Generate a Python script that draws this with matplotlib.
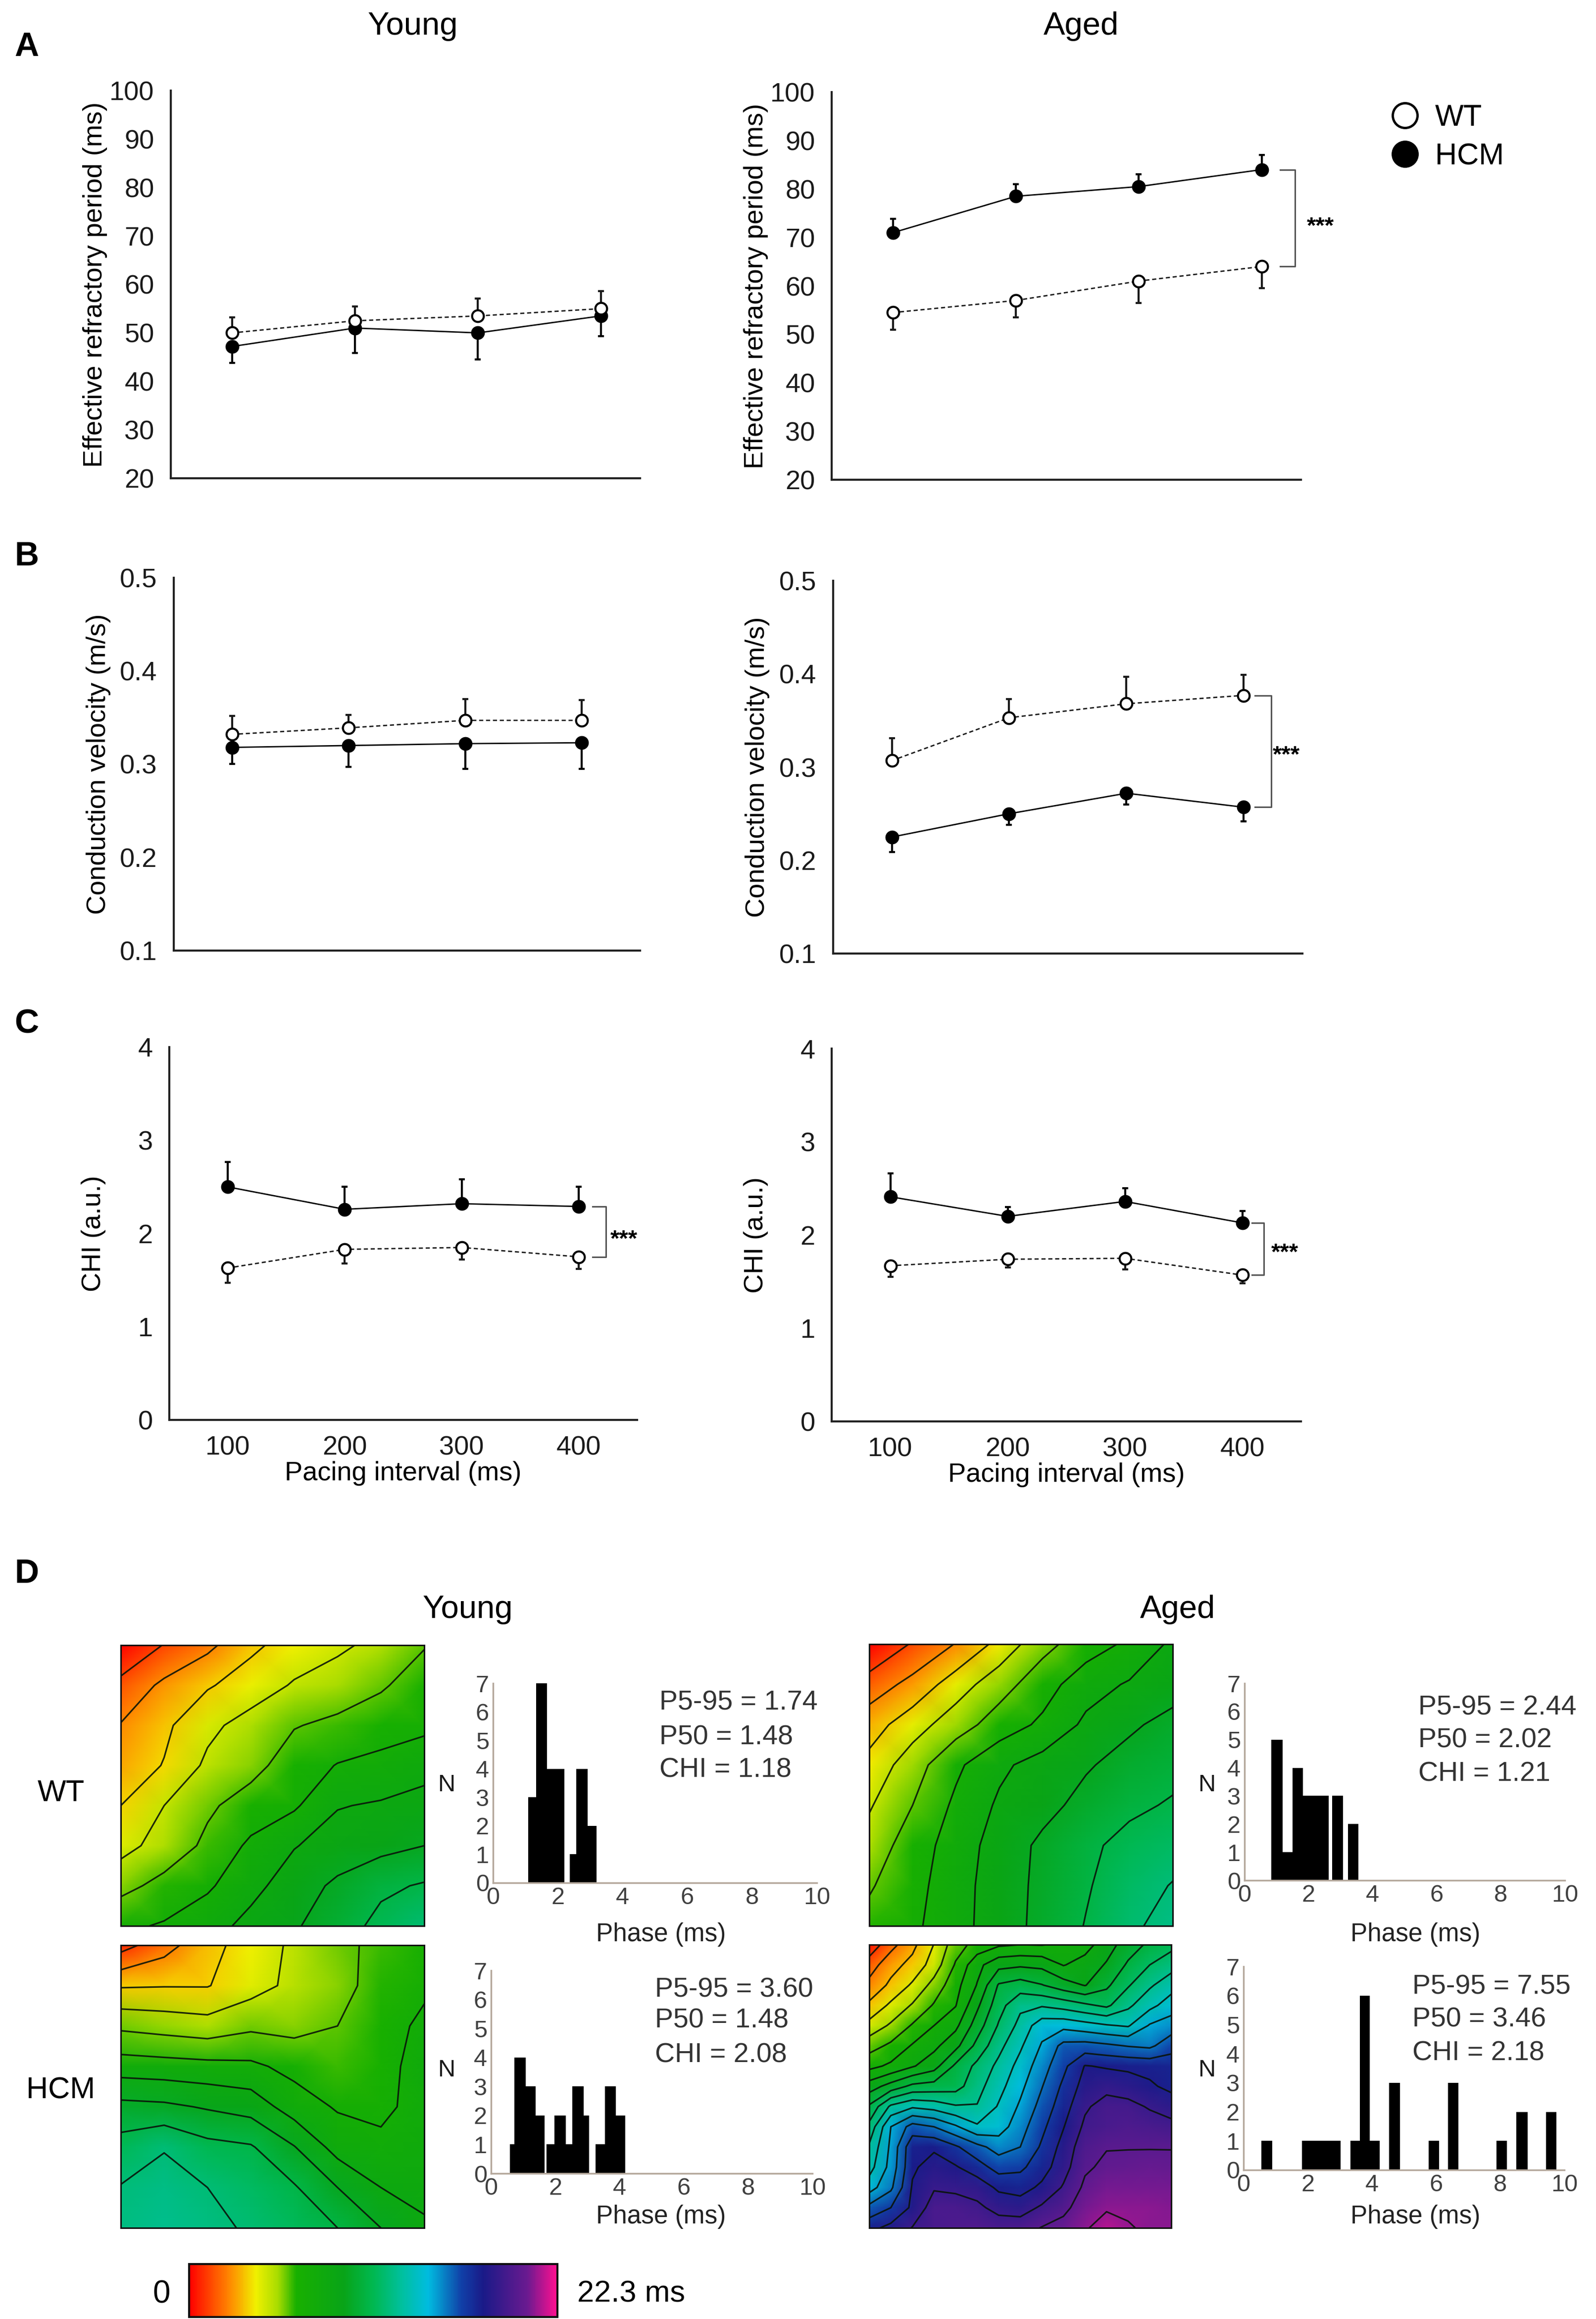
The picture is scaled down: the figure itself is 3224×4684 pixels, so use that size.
import numpy as np
import matplotlib
matplotlib.use('Agg')
import matplotlib.pyplot as plt
from matplotlib.colors import LinearSegmentedColormap
from matplotlib.lines import Line2D
from matplotlib.cm import ScalarMappable
from matplotlib.colors import Normalize

plt.rcParams['font.family'] = ['Liberation Sans', 'DejaVu Sans']

# Line panels: mean and one sided error
pacing = [100, 200, 300, 400]
pacing_labels = ['100', '200', '300', '400']

erp_young_wt = [50, 52.5, 53.5, 55]
erp_young_wt_err = [3.2, 3.0, 3.6, 3.6]
erp_young_hcm = [47.2, 51, 50, 53.5]
erp_young_hcm_err = [3.4, 5.2, 5.5, 4.2]
erp_aged_wt = [54.5, 57, 61, 64]
erp_aged_wt_err = [3.5, 3.5, 4.5, 4.5]
erp_aged_hcm = [71, 78.5, 80.5, 84]
erp_aged_hcm_err = [2.8, 2.5, 2.5, 3.0]

cv_young_wt = [0.332, 0.339, 0.347, 0.347]
cv_young_wt_err = [0.020, 0.014, 0.023, 0.022]
cv_young_hcm = [0.318, 0.320, 0.322, 0.323]
cv_young_hcm_err = [0.018, 0.023, 0.027, 0.028]
cv_aged_wt = [0.307, 0.353, 0.368, 0.377]
cv_aged_wt_err = [0.024, 0.020, 0.029, 0.022]
cv_aged_hcm = [0.225, 0.250, 0.272, 0.257]
cv_aged_hcm_err = [0.016, 0.012, 0.012, 0.015]

chi_young_wt = [1.63, 1.83, 1.85, 1.75]
chi_young_wt_err = [0.16, 0.15, 0.13, 0.13]
chi_young_hcm = [2.50, 2.26, 2.32, 2.29]
chi_young_hcm_err = [0.27, 0.24, 0.26, 0.21]
chi_aged_wt = [1.67, 1.74, 1.75, 1.57]
chi_aged_wt_err = [0.12, 0.09, 0.12, 0.09]
chi_aged_hcm = [2.41, 2.20, 2.36, 2.13]
chi_aged_hcm_err = [0.25, 0.10, 0.14, 0.13]

# Phase maps in units of the contour step, top row first
map_young_wt = [
    [0.0, 1.05, 1.75, 2.8, 3.4, 3.8, 4.3, 4.95],
    [1.3, 2.2, 2.9, 3.45, 4.1, 4.5, 4.9, 5.4],
    [2.05, 2.8, 3.75, 4.4, 4.95, 5.2, 5.45, 5.75],
    [2.4, 3.05, 4.2, 4.7, 5.45, 6.05, 6.35, 6.7],
    [3.0, 4.0, 4.85, 5.4, 5.85, 6.95, 7.1, 7.3],
    [3.65, 4.4, 5.2, 6.2, 6.95, 7.4, 7.7, 8.0],
    [4.7, 5.3, 5.85, 6.7, 7.5, 8.2, 8.8, 9.1],
    [5.8, 6.1, 6.6, 7.3, 7.9, 8.5, 9.3, 9.9],
]
map_young_hcm = [
    [0.6, 1.6, 2.7, 3.4, 4.2, 4.8, 5.2, 5.6],
    [2.9, 2.95, 2.95, 3.6, 4.25, 4.7, 5.35, 5.75],
    [4.8, 4.6, 4.4, 4.8, 4.7, 5.0, 5.4, 6.3],
    [6.5, 6.4, 6.3, 6.2, 5.7, 5.2, 5.5, 6.6],
    [8.3, 8.2, 7.9, 7.6, 6.5, 5.9, 5.7, 6.5],
    [9.4, 9.95, 9.3, 9.1, 8.05, 6.6, 6.3, 6.6],
    [10.05, 10.3, 10.0, 9.6, 9.1, 8.0, 7.0, 6.8],
    [10.2, 10.4, 10.2, 9.9, 9.5, 9.0, 8.0, 7.1],
]
map_aged_wt = [
    [0.0, 1.1, 2.05, 3.3, 4.7, 5.5, 6.2, 7.2],
    [1.45, 2.3, 3.5, 4.6, 5.55, 6.6, 7.1, 7.6],
    [2.55, 3.55, 4.55, 5.45, 6.2, 7.2, 7.85, 8.3],
    [3.3, 4.55, 5.8, 6.8, 7.4, 7.9, 8.35, 8.7],
    [3.9, 5.0, 6.2, 7.15, 7.7, 8.3, 8.8, 9.1],
    [4.4, 5.5, 6.45, 7.45, 8.2, 8.8, 9.3, 9.6],
    [4.9, 5.65, 6.6, 7.5, 8.25, 8.9, 9.6, 10.05],
    [5.3, 5.8, 6.65, 7.5, 8.3, 9.05, 9.85, 10.3],
]
map_aged_hcm = [
    [0.3, 1.66, 2.73, 4.03, 5.57, 6.35, 6.85, 7.0, 6.95, 7.15, 7.6, 8.55, 9.5, 10.2, 10.7],
    [1.5, 2.65, 3.3, 4.45, 6.1, 7.7, 8.7, 8.85, 8.75, 7.95, 8.4, 9.1, 10.15, 11.0, 11.6],
    [2.3, 3.2, 4.15, 5.35, 6.65, 8.05, 10.1, 10.45, 10.05, 9.45, 8.95, 9.8, 10.9, 11.85, 12.6],
    [3.2, 4.2, 5.1, 6.1, 6.95, 8.8, 10.6, 11.8, 11.9, 11.6, 11.2, 10.8, 11.8, 12.7, 13.5],
    [4.35, 5.15, 6.1, 7.0, 7.75, 9.5, 11.1, 12.3, 13.6, 13.7, 13.4, 13.1, 12.9, 14.1, 14.5],
    [5.6, 6.2, 7.1, 7.75, 8.7, 10.3, 11.7, 12.85, 14.1, 15.3, 15.4, 15.2, 14.95, 14.8, 15.6],
    [6.7, 7.2, 7.9, 8.6, 10.2, 11.25, 12.25, 13.35, 14.55, 15.75, 17.05, 16.9, 16.8, 16.7, 16.6],
    [8.5, 9.4, 10.25, 10.4, 10.6, 11.65, 12.65, 13.75, 14.95, 16.2, 17.4, 17.7, 17.5, 17.15, 16.75],
    [10.15, 12.2, 12.85, 12.6, 12.1, 12.05, 13.1, 14.15, 15.35, 16.55, 17.85, 18.4, 18.3, 17.9, 17.55],
    [11.3, 14.0, 15.4, 15.0, 14.15, 13.15, 13.5, 14.6, 15.75, 16.95, 18.2, 18.5, 18.6, 18.5, 18.3],
    [12.15, 14.2, 16.75, 16.85, 16.15, 15.3, 14.6, 15.0, 16.15, 17.35, 18.6, 18.95, 18.95, 18.95, 18.95],
    [12.6, 14.35, 16.85, 17.4, 17.1, 16.45, 15.6, 15.8, 16.55, 17.6, 18.85, 19.2, 19.3, 19.35, 19.3],
    [13.55, 14.8, 17.1, 17.9, 17.8, 17.6, 16.8, 16.6, 17.2, 18.1, 19.2, 19.6, 19.6, 19.6, 19.6],
    [15.3, 16.0, 17.2, 18.5, 18.45, 18.2, 17.7, 17.55, 18.15, 18.7, 19.6, 19.9, 19.9, 19.85, 19.8],
    [16.7, 17.3, 18.05, 18.5, 18.6, 18.7, 18.5, 18.55, 19.05, 19.4, 19.9, 20.4, 20.05, 19.9, 19.85],
]

# Phase histograms
hist_young_wt_edges = [1.08, 1.33, 1.67, 2.2, 2.37, 2.57, 2.92, 3.2]
hist_young_wt_counts = [3, 7, 4, 0, 1, 4, 2]
hist_young_hcm_edges = [0.58, 0.72, 1.08, 1.38, 1.67, 1.72, 1.97, 2.33, 2.53, 2.88, 3.05, 3.25, 3.55, 3.88, 4.17]
hist_young_hcm_counts = [1, 4, 3, 2, 0, 1, 2, 1, 3, 2, 0, 1, 3, 2]
hist_aged_wt_edges = [0.83, 1.19, 1.5, 1.83, 2.62, 2.74, 3.08, 3.23, 3.56]
hist_aged_wt_counts = [5, 1, 4, 3, 0, 3, 0, 2]
hist_aged_hcm_edges = [0.56, 0.89, 1.82, 3.02, 3.34, 3.62, 3.94, 4.24, 4.54, 4.87, 5.77, 6.1, 6.38, 6.7, 7.88, 8.21, 8.5, 8.86, 9.43, 9.76]
hist_aged_hcm_counts = [1, 0, 1, 0, 1, 6, 1, 0, 3, 0, 1, 0, 3, 0, 1, 0, 2, 0, 2]

stats_young_wt = ['P5-95 = 1.74', 'P50 = 1.48', 'CHI = 1.18']
stats_young_hcm = ['P5-95 = 3.60', 'P50 = 1.48', 'CHI = 2.08']
stats_aged_wt = ['P5-95 = 2.44', 'P50 = 2.02', 'CHI = 1.21']
stats_aged_hcm = ['P5-95 = 7.55', 'P50 = 3.46', 'CHI = 2.18']

W, H = 3224, 4684
fig = plt.figure(figsize=(W / 100, H / 100), dpi=100)


def ax_px(left, top, right, bottom):
    return fig.add_axes([left / W, 1 - bottom / H, (right - left) / W, (bottom - top) / H])


def ftext(x, y, s, **kw):
    kw.setdefault('ha', 'center')
    kw.setdefault('va', 'center')
    fig.text(x / W, 1 - (y + 8) / H, s, **kw)


def line_panel(box, wt, wt_err, hcm, hcm_err, ylim, yticks, ylab, xlim=(50, 450),
               wt_up=True, xlabels=False, yfmt='%g'):
    ax = ax_px(*box)
    wt_e = [[0] * 4, wt_err] if wt_up else [wt_err, [0] * 4]
    hcm_e = [hcm_err, [0] * 4] if wt_up else [[0] * 4, hcm_err]
    ax.errorbar(pacing, hcm, yerr=hcm_e, color='k', lw=2, marker='o', ms=19, mfc='k', mec='k',
                elinewidth=3, capsize=4.5, capthick=3, zorder=3)
    ax.errorbar(pacing, wt, yerr=wt_e, color='#1a1a1a', lw=2, ls=(0, (3, 2)), marker='o', ms=17,
                mfc='w', mec='k', mew=3, elinewidth=3, capsize=4.5, capthick=3, zorder=4)
    ax.set_xlim(*xlim)
    ax.set_ylim(*ylim)
    ax.set_yticks(yticks)
    ax.set_yticklabels([yfmt % t for t in yticks])
    if xlabels:
        ax.set_xticks(pacing)
        ax.set_xticklabels(pacing_labels)
        ax.set_xlabel('Pacing interval (ms)', fontsize=39, labelpad=1)
    else:
        ax.set_xticks([])
    ax.tick_params(length=0, labelsize=39, pad=24, colors='#1a1a1a')
    ax.tick_params(axis='x', pad=23)
    ax.set_ylabel(ylab, fontsize=39)
    ax.yaxis.set_label_coords(-0.135, 0.5)
    for s in ['top', 'right']:
        ax.spines[s].set_visible(False)
    for s in ['left', 'bottom']:
        ax.spines[s].set_linewidth(3)
        ax.spines[s].set_color('#222222')
    ax.patch.set_alpha(0)
    return ax


def bracket(ax, x0, x1, y0, y1, xstar, ystar):
    # x given in pixels, y in data
    tr = ax.get_yaxis_transform()
    bb = ax.get_position()
    fx = lambda p: (p / W - bb.x0) / bb.width
    ax.plot([fx(x0), fx(x1), fx(x1), fx(x0)], [y0, y0, y1, y1], color='#555555', lw=2.2,
            transform=tr, clip_on=False)
    ftext(xstar, ystar - 5, '***', fontsize=34, fontweight='bold')


# panel A
a_lim = (50, 432)
erp_ticks = list(range(20, 101, 10))
line_panel((345, 183, 1293, 966), erp_young_wt, erp_young_wt_err, erp_young_hcm, erp_young_hcm_err,
           (20, 100), erp_ticks, 'Effective refractory period (ms)', xlim=a_lim)
ax = line_panel((1680, 186, 2628, 969), erp_aged_wt, erp_aged_wt_err, erp_aged_hcm, erp_aged_hcm_err,
                (20, 100), erp_ticks, 'Effective refractory period (ms)', xlim=a_lim, wt_up=False)
bracket(ax, 2586, 2616, 84, 64, 2667, 456)

# panel B
cv_ticks = [0.1, 0.2, 0.3, 0.4, 0.5]
line_panel((351, 1167, 1293, 1920), cv_young_wt, cv_young_wt_err, cv_young_hcm, cv_young_hcm_err,
           (0.1, 0.5), cv_ticks, 'Conduction velocity (m/s)')
ax = line_panel((1683, 1173, 2631, 1926), cv_aged_wt, cv_aged_wt_err, cv_aged_hcm, cv_aged_hcm_err,
                (0.1, 0.5), cv_ticks, 'Conduction velocity (m/s)')
bracket(ax, 2535, 2568, 0.377, 0.257, 2598, 1524)

# panel C
chi_ticks = [0, 1, 2, 3, 4]
ax = line_panel((342, 2115, 1287, 2868), chi_young_wt, chi_young_wt_err, chi_young_hcm, chi_young_hcm_err,
                (0, 4), chi_ticks, 'CHI (a.u.)', wt_up=False, xlabels=True)
bracket(ax, 1197, 1224, 2.29, 1.75, 1260, 2502)
ax = line_panel((1680, 2118, 2628, 2871), chi_aged_wt, chi_aged_wt_err, chi_aged_hcm, chi_aged_hcm_err,
                (0, 4), chi_ticks, 'CHI (a.u.)', wt_up=False, xlabels=True)
bracket(ax, 2529, 2553, 2.13, 1.57, 2595, 2529)

# legend
handles = [Line2D([], [], ls='none', marker='o', ms=36, mfc='w', mec='k', mew=3.5),
           Line2D([], [], ls='none', marker='o', ms=36, mfc='k', mec='k', mew=3.5)]
fig.legend(handles, ['WT', 'HCM'], loc='upper left', bbox_to_anchor=(2795 / W, 1 - 210 / H),
           frameon=False, fontsize=44, labelspacing=0.35, handletextpad=0.3, borderpad=0,
           borderaxespad=0, handlelength=1.4)

# phase maps
rainbow_pos = [0.0, 0.11, 0.18, 0.24, 0.29, 0.42, 0.5, 0.58, 0.65, 0.74, 0.8, 0.92, 1.0]
rainbow_col = ['#ff0000', '#ff8a00', '#f0f000', '#a8dc00', '#18b000', '#08a418', '#00b850',
               '#00c0a0', '#00bce0', '#1040a8', '#1a1a88', '#6a1a90', '#ff1090']
cmap = LinearSegmentedColormap.from_list('phase', list(zip(rainbow_pos, rainbow_col)))


def phase_map(box, values, step):
    ax = ax_px(*box)
    z = np.array(values) * step
    x = np.arange(z.shape[1])
    y = np.arange(z.shape[0])
    ax.pcolormesh(x, y, z, shading='gouraud', cmap=cmap, vmin=0, vmax=22.3)
    ax.contour(x, y, z, levels=step * np.arange(1, 21), colors='#0a140a', linewidths=2.3, alpha=0.9)
    ax.invert_yaxis()
    ax.set_xticks([])
    ax.set_yticks([])
    for s in ax.spines.values():
        s.set_linewidth(2.2)
        s.set_color('#101010')


phase_map((244, 3323, 857, 3890), map_young_wt, 1.2)
phase_map((244, 3929, 857, 4500), map_young_hcm, 1.2)
phase_map((1756, 3321, 2369, 3890), map_aged_wt, 1.2)
phase_map((1756, 3928, 2366, 4500), map_aged_hcm, 1.05)


def hist_panel(box, edges, counts):
    ax = ax_px(*box)
    ax.stairs(counts, edges, fill=True, color='k')
    ax.set_xlim(0, 10)
    ax.set_ylim(0, 7)
    ax.set_xticks(range(0, 11, 2))
    ax.set_yticks(range(0, 8))
    ax.tick_params(length=0, labelsize=35, pad=6, colors='#404040')
    for s in ['top', 'right']:
        ax.spines[s].set_visible(False)
    for s in ['left', 'bottom']:
        ax.spines[s].set_linewidth(2.5)
        ax.spines[s].set_color('#b5a89c')
    ax.patch.set_alpha(0)


hist_panel((996, 3400, 1650, 3803), hist_young_wt_edges, hist_young_wt_counts)
hist_panel((992, 3980, 1641, 4390), hist_young_hcm_edges, hist_young_hcm_counts)
hist_panel((2514, 3400, 3161, 3798), hist_aged_wt_edges, hist_aged_wt_counts)
hist_panel((2512, 3972, 3160, 4383), hist_aged_hcm_edges, hist_aged_hcm_counts)

for (x, ys, lines) in [(1332, (3432, 3501, 3567), stats_young_wt),
                       (1323, (4011, 4074, 4143), stats_young_hcm),
                       (2865, (3441, 3507, 3576), stats_aged_wt),
                       (2853, (4005, 4071, 4140), stats_aged_hcm)]:
    for yy, s in zip(ys, lines):
        ftext(x, yy, s, fontsize=40, ha='left', color='#333333')

for x, y in [(903, 3597), (903, 4173), (2439, 3597), (2439, 4173)]:
    ftext(x, y, 'N', fontsize=35, color='#1a1a1a')
for x, y in [(1335, 3900), (1335, 4470), (2859, 3900), (2859, 4470)]:
    ftext(x, y, 'Phase (ms)', fontsize=37, color='#222222')

# colour bar
cax = ax_px(382, 4573, 1126, 4680)
cb = fig.colorbar(ScalarMappable(Normalize(0, 22.3), cmap), cax=cax, orientation='horizontal')
cb.set_ticks([])
cb.outline.set_linewidth(3)
cb.outline.set_edgecolor('#101010')
ftext(326, 4626, '0', fontsize=46)
ftext(1275, 4626, '22.3 ms', fontsize=44)

# titles and panel letters
ftext(834, 45, 'Young', fontsize=47)
ftext(2184, 45, 'Aged', fontsize=47)
ftext(945, 3243, 'Young', fontsize=47)
ftext(2379, 3243, 'Aged', fontsize=47)
ftext(123, 3615, 'WT', fontsize=44)
ftext(123, 4215, 'HCM', fontsize=44)
for s, x, y in [('A', 54, 87), ('B', 54, 1116), ('C', 54, 2061), ('D', 54, 3171)]:
    ftext(x, y, s, fontsize=49, fontweight='bold')

fig.savefig('out.png', dpi=100)
